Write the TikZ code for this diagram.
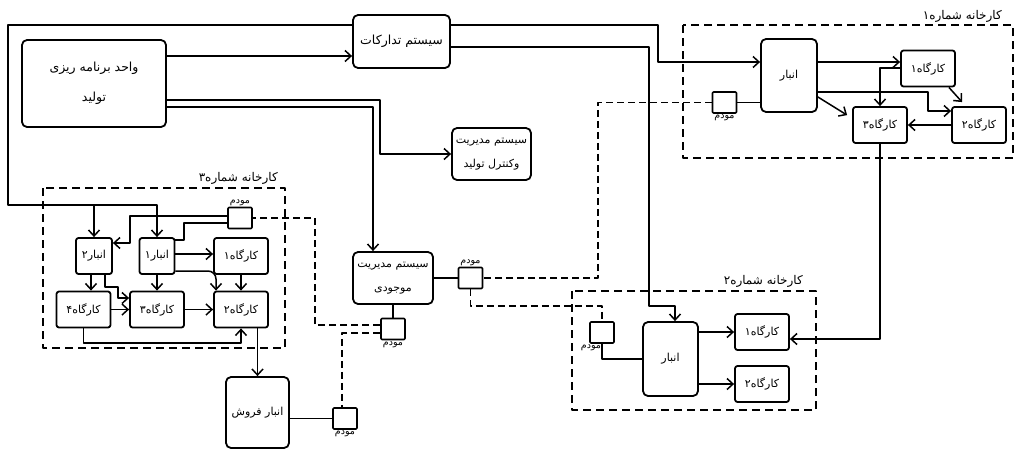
\documentclass[tikz,border=0pt]{standalone}
\usepackage{fontspec}
\newfontfamily\farsi[Script=Arabic]{DejaVu Sans}
\TeXXeTstate=1
\usetikzlibrary{arrows.meta}
\tikzset{
  every picture/.style={line join=round, >={Straight Barb[length=6pt,width=11pt]}},
  unit/.style={draw, line width=1.8pt, rounded corners=5pt, align=center, inner sep=0pt,
    font=\farsi\fontsize{11}{13}\selectfont},
  shop/.style={draw, line width=1.8pt, rounded corners=2.5pt, minimum width=54pt,
    minimum height=36pt, inner sep=0pt, font=\farsi\fontsize{11}{13}\selectfont},
  modem/.style={draw, line width=1.6pt, rounded corners=1pt, minimum width=24pt,
    minimum height=21pt, inner sep=0pt},
  modemlabel/.style={inner sep=1pt, font=\farsi\fontsize{9.5}{11}\selectfont},
  plantlabel/.style={anchor=south east, inner sep=1pt, font=\farsi\fontsize{12}{14}\selectfont},
  plant/.style={line width=1.7pt, dash pattern=on 8pt off 5pt},
  net/.style={line width=1.7pt, dash pattern=on 7pt off 4pt},
  wire/.style={line width=1.5pt},
  link/.style={line width=1.5pt, ->},
}
\begin{document}
\begin{tikzpicture}[x=1pt,y=-1pt]
\useasboundingbox (0,0) rectangle (1016,450);

\node[unit, minimum width=144pt, minimum height=87pt, font=\farsi\fontsize{12.5}{14}\selectfont] (plan) at (94,83.5) {\beginR واحد برنامه ریزی\endR\\[16pt]\beginR تولید\endR};
\node[unit, minimum width=97pt, minimum height=53pt, font=\farsi\fontsize{12.5}{14}\selectfont] (supply) at (401.5,41.5) {\beginR سیستم تدارکات\endR};
\node[unit, minimum width=79pt, minimum height=52pt] (control) at (491.5,154) {\beginR سیستم مدیریت\endR\\[11pt]\beginR وکنترل تولید\endR};
\node[unit, minimum width=80pt, minimum height=52pt] (stock) at (393,278) {\beginR سیستم مدیریت\endR\\[11pt]\beginR موجودی\endR};
\node[unit, minimum width=63pt, minimum height=71pt] (sales) at (257.5,412.5) {\beginR انبار فروش\endR};

\draw[plant] (683,25) rectangle (1013,158);
\node[plantlabel] (f1) at (1003,24) {\beginR کارخانه شماره۱\endR};
\node[unit, minimum width=56pt, minimum height=73pt] (a1) at (789,75.5) {\beginR انبار\endR};
\node[shop] (s11) at (928,68.5) {\beginR کارگاه۱\endR};
\node[shop] (s12) at (979,125) {\beginR کارگاه۲\endR};
\node[shop] (s13) at (880,125) {\beginR کارگاه۳\endR};
\node[modem] (m1) at (724.5,102.5) {};
\node[modemlabel, anchor=north] (m1t) at (m1.south) {\beginR مودم\endR};

\draw[plant] (572,291) rectangle (816,410);
\node[plantlabel] (f2) at (804,289) {\beginR کارخانه شماره۲\endR};
\node[unit, minimum width=55pt, minimum height=74pt] (b) at (670.5,359) {\beginR انبار\endR};
\node[shop] (s21) at (762,332) {\beginR کارگاه۱\endR};
\node[shop] (s22) at (762,384) {\beginR کارگاه۲\endR};
\node[modem] (m2) at (602,332.5) {};
\node[modemlabel, anchor=north] (m2t) at ([xshift=-11pt]m2.south) {\beginR مودم\endR};

\draw[plant] (43,188) rectangle (285,348);
\node[plantlabel] (f3) at (279,186) {\beginR کارخانه شماره۳\endR};
\node[shop, minimum width=36pt] (a32) at (94,256) {\beginR انبار۲\endR};
\node[shop, minimum width=35pt] (a31) at (157,256) {\beginR انبار۱\endR};
\node[shop] (s31) at (241,256) {\beginR کارگاه۱\endR};
\node[shop] (s34) at (83.5,309.5) {\beginR کارگاه۴\endR};
\node[shop] (s33) at (157,309.5) {\beginR کارگاه۳\endR};
\node[shop] (s32) at (241,309.5) {\beginR کارگاه۲\endR};
\node[modem] (m3) at (240,218) {};
\node[modemlabel, anchor=south] (m3t) at (m3.north) {\beginR مودم\endR};

\node[modem] (mS1) at (470.5,278) {};
\node[modemlabel, anchor=south] (mS1t) at (mS1.north) {\beginR مودم\endR};
\node[modem] (mS2) at (393,329) {};
\node[modemlabel, anchor=north] (mS2t) at (mS2.south) {\beginR مودم\endR};
\node[modem] (mSa) at (345,418.5) {};
\node[modemlabel, anchor=north] (mSat) at (mSa.south) {\beginR مودم\endR};

\draw[link] (plan.east |- 0,56) -- (supply.west |- 0,56);
\draw[link] (supply.west |- 0,25) -- (8,25) |- (a31.north |- 0,205) -- (a31.north);
\draw[link] (a32.north |- 0,205) -- (a32.north);
\draw[link] (supply.east |- 0,25) -| (658,62) -- (a1.west |- 0,62);
\draw[link] (supply.east |- 0,47) -| (649,306) -| ([xshift=4.5pt]b.north);
\draw[link] (plan.east |- 0,100) -- (380,100) |- (control.west);
\draw[link] (plan.east |- 0,107) -| ([xshift=-20pt]stock.north);

\draw[link] (a1.east |- 0,62) -- (s11.west |- 0,62);
\draw[link] (s11.west |- 0,68) -| (s13.north);
\draw[link] (a1.east |- 0,92) -| (928,111) -- (s12.west |- 0,111);
\draw[link] (a1.east |- 0,97) -- ([shift={(-5pt,-9pt)}]s13.north west);
\draw[link] ([xshift=-7pt]s11.south east) -- ([shift={(11pt,4pt)}]s12.north west);
\draw[link] (s12.west) -- (s13.east);
\draw[wire] (m1.east) -- (a1.west |- m1.east);
\draw[link] (s13.south) |- ([yshift=-7pt]s21.east);

\draw[net] (m1.west) -| (598,278) -- (mS1.east);
\draw[net] (mS1.south) |- (m2.north |- 0,306) -- (m2.north);
\draw[wire] (stock.east) -- (mS1.west);
\draw[wire] (stock.south) -- (mS2.north);
\draw[net] (mS2.west |- 0,325) -| (315,218) -- (m3.east);
\draw[net] (mS2.west |- 0,333) -| ([xshift=-3pt]mSa.north);
\draw[wire] (mSa.west) -- (sales.east |- mSa.west);
\draw[link] (sales.north |- s32.south) -- (sales.north);

\draw[wire] (m2.south) |- (b.west);
\draw[link] (b.east |- s21.west) -- (s21.west);
\draw[link] (b.east |- s22.west) -- (s22.west);

\draw[link] (m3.west |- 0,216) -| (130,243) -- (a32.east |- 0,243);
\draw[wire] (m3.west |- 0,223) -| (184,240) -- (a31.east |- 0,240);
\draw[link] (a31.east |- 0,254) -- (s31.west |- 0,254);
\draw[link] (a31.south) -- (s33.north);
\draw[link, rounded corners=8pt] (a31.east |- 0,271) -| ([xshift=-25pt]s32.north);
\draw[link] (s31.south) -- (s32.north);
\draw[link] (a32.south -| 91,0) -- (s34.north -| 91,0);
\draw[link] (a32.south -| 105,0) |- (118,287) |- (s33.west |- 0,298);
\draw[link] (s34.east) -- (s33.west);
\draw[link] (s33.east) -- (s32.west);
\draw[link] (s34.south) |- (s32.south |- 0,343) -- (s32.south);
\end{tikzpicture}
\end{document}
